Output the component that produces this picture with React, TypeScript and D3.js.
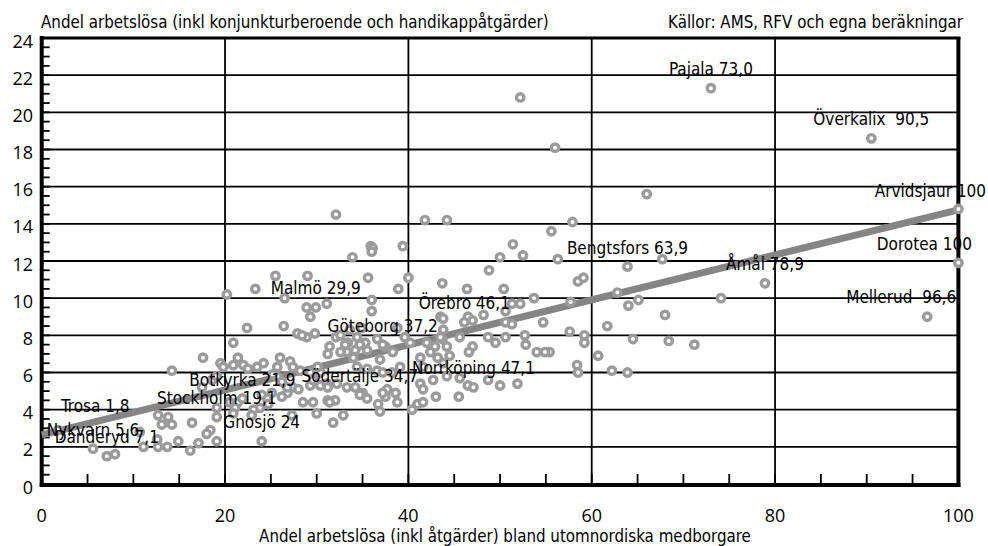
import React, { useEffect, useRef } from 'react';
import * as d3 from 'd3';

// axis ticks and texts
const yTicks = [0, 2, 4, 6, 8, 10, 12, 14, 16, 18, 20, 22, 24];
const xTicks = [0, 20, 40, 60, 80, 100];
const yTitle = 'Andel arbetslösa (inkl konjunkturberoende och handikappåtgärder)';
const sourceText = 'Källor: AMS, RFV och egna beräkningar';
const xTitle = 'Andel arbetslösa (inkl åtgärder) bland utomnordiska medborgare';

// named municipalities
const cityNames = [
  'Pajala 73,0', 'Överkalix  90,5', 'Arvidsjaur 100', 'Dorotea 100', 'Mellerud  96,6',
  'Åmål 78,9', 'Bengtsfors 63,9', 'Örebro 46,1', 'Norrköping 47,1', 'Göteborg 37,2',
  'Malmö 29,9', 'Södertälje 34,7', 'Botkyrka 21,9', 'Stockholm 19,1', 'Gnosjö 24',
  'Trosa 1,8', 'Nykvarn 5,6', 'Danderyd 7,1',
];
const cityX = [73.0, 90.5, 100, 100, 96.6, 78.9, 63.9, 46.1, 47.1, 37.2, 29.9, 34.7, 21.9, 19.1, 24, 1.8, 5.6, 7.1];
const cityY = [21.3, 18.6, 14.8, 11.9, 9.0, 10.8, 11.7, 8.7, 5.2, 7.5, 9.5, 4.8, 4.6, 3.6, 2.3, 2.9, 1.9, 1.5];

// other municipalities
const otherX = [
  52.2, 56.0, 32.1, 66.0, 41.8, 44.2, 55.6, 57.9, 74.1, 68.0, 68.4, 71.2, 67.7, 56.3, 58.5, 59.1,
  62.8, 57.7, 64.0, 65.1, 57.6, 61.7, 59.2, 59.2, 64.5, 60.7, 58.4, 58.5, 62.2, 63.9, 55.4, 54.9,
  54.0, 51.4, 52.5, 50.0, 39.4, 48.8, 40.0, 43.7, 38.9, 46.4, 50.4, 53.7, 51.3, 52.2, 50.6, 43.5,
  43.8, 46.5, 47.0, 48.2, 50.6, 51.3, 54.7, 45.6, 48.7, 49.5, 50.6, 52.7, 52.8, 47.0, 46.6, 42.0,
  42.9, 43.7, 44.2, 44.5, 41.3, 42.4, 43.2, 43.8, 41.6, 44.2, 45.6, 46.5, 48.7, 50.0, 51.9, 43.0,
  45.5, 40.4, 41.0, 41.6, 38.8, 37.7, 38.6, 37.5, 38.2, 39.1, 37.5, 38.3, 36.9, 40.2, 38.8, 39.6,
  42.7, 41.3, 41.6, 35.9, 36.1, 36.0, 33.9, 25.5, 29.0, 23.3, 20.2, 26.5, 35.6, 36.0, 31.1, 28.9,
  29.3, 36.0, 22.4, 26.4, 27.9, 28.9, 29.8, 28.4, 20.9, 32.1, 31.4, 31.2, 33.4, 34.4, 35.3, 36.6,
  33.3, 34.0, 35.5, 26.0, 21.4, 22.0, 22.5, 23.5, 24.2, 19.5, 27.1, 27.4, 28.2, 29.3, 30.4, 34.4,
  35.5, 36.6, 37.2, 25.7, 26.2, 29.3, 30.4, 31.1, 27.4, 28.0, 33.3, 35.5, 37.2, 26.8, 26.2, 25.1,
  24.6, 24.0, 28.5, 29.6, 31.2, 32.0, 36.7, 36.9, 32.9, 31.8, 30.0, 24.7, 23.8, 23.1, 22.9, 21.4,
  21.1, 18.4, 19.1, 17.6, 14.2, 12.7, 13.1, 14.2, 13.8, 16.4, 18.0, 10.7, 11.1, 12.6, 13.7, 12.7,
  14.9, 16.2, 17.1, 8.0, 18.6, 19.1, 17.5, 19.8, 20.9, 25.2, 26.8, 29.6, 30.1, 31.2, 25.7, 27.3,
  20.5, 20.9, 19.1, 32.6, 33.1, 34.2, 32.6, 34.7, 33.6, 34.9, 43.8, 43.5, 32.2, 34.2, 35.0, 31.4,
];
const otherY = [
  20.8, 18.1, 14.5, 15.6, 14.2, 14.2, 13.6, 14.1, 10.0, 9.1, 7.7, 7.5, 12.1, 12.1, 10.9, 11.1,
  10.3, 9.8, 9.6, 9.9, 8.2, 8.5, 8.0, 7.6, 7.8, 6.9, 6.4, 6.0, 6.1, 6.0, 7.1, 7.1,
  7.1, 12.9, 12.3, 12.2, 12.8, 11.5, 11.1, 10.8, 10.5, 10.5, 10.5, 10.0, 9.7, 9.7, 9.3, 9.0,
  8.9, 9.0, 8.8, 9.1, 8.7, 8.6, 8.7, 7.9, 7.9, 7.6, 7.9, 8.0, 7.5, 7.4, 7.1, 7.6,
  7.4, 7.8, 7.4, 6.9, 6.8, 7.1, 6.8, 6.5, 6.3, 5.8, 5.7, 5.3, 5.6, 5.3, 5.4, 4.7,
  4.7, 4.0, 4.3, 4.4, 4.4, 5.1, 4.9, 4.7, 6.0, 6.3, 7.4, 7.1, 6.7, 7.6, 8.4, 7.9,
  5.6, 5.4, 5.1, 12.8, 12.7, 12.5, 12.2, 11.2, 11.2, 10.5, 10.2, 10.0, 11.1, 9.9, 9.7, 9.5,
  9.0, 9.3, 8.4, 8.5, 8.1, 7.9, 8.1, 8.0, 7.6, 7.9, 7.4, 7.0, 7.6, 7.9, 7.6, 7.8,
  7.1, 6.8, 7.2, 6.8, 6.8, 6.4, 6.2, 6.3, 6.5, 6.5, 6.6, 6.3, 6.1, 6.0, 6.0, 6.3,
  6.2, 6.1, 6.0, 5.8, 5.5, 5.3, 5.3, 5.4, 5.2, 5.1, 5.2, 4.6, 4.9, 4.9, 4.7, 4.9,
  4.6, 4.8, 4.4, 4.4, 4.5, 4.5, 4.3, 3.9, 3.7, 3.3, 3.8, 4.3, 4.1, 4.0, 3.7, 4.4,
  4.1, 2.9, 2.3, 6.8, 6.1, 3.7, 3.2, 3.2, 3.6, 3.3, 2.7, 2.8, 2.0, 2.4, 2.0, 2.0,
  2.3, 1.8, 2.2, 1.6, 5.6, 5.8, 5.2, 6.3, 6.4, 5.9, 5.2, 5.6, 6.3, 5.2, 6.3, 3.7,
  4.4, 3.8, 4.1, 8.0, 7.5, 7.2, 7.1, 7.5, 8.3, 8.4, 8.3, 7.9, 5.4, 5.2, 4.9, 4.4,
];

// fitted line end points
const trendX = [0, 100];
const trendY = [2.64, 14.75];

const W = 988;
const H = 546;
const condensed = "'Liberation Sans Narrow', 'Arial Narrow', 'DejaVu Sans Condensed', sans-serif";
const tickFont = "'Open Sans', 'DejaVu Sans', sans-serif";

// small nudges for labels that sit off-centre in the original
const labelNudge: Record<string, [number, number]> = {
  'Trosa 1,8': [37, -18],
  'Arvidsjaur 100': [-28, -12],
  'Dorotea 100': [-34, -13],
  'Mellerud  96,6': [-26, -14],
};

const drawChart = (node: SVGSVGElement) => {
  const svg = d3.select(node);
  svg.selectAll('*').remove();

  const x = d3.scaleLinear().domain([0, 100]).range([41.7, 958.4]);
  const y = d3.scaleLinear().domain([0, 24]).range([484, 38]);

  svg.append('rect').attr('width', W).attr('height', H).attr('fill', '#fff');

  // grid
  svg.append('g').selectAll('line')
    .data(yTicks.filter(d => d > 0 && d < 24))
    .enter().append('line')
    .attr('x1', x(0)).attr('x2', x(100))
    .attr('y1', d => y(d)).attr('y2', d => y(d))
    .attr('stroke', '#000').attr('stroke-width', 1.8);
  svg.append('g').selectAll('line')
    .data(xTicks.filter(d => d > 0 && d < 100))
    .enter().append('line')
    .attr('x1', d => x(d)).attr('x2', d => x(d))
    .attr('y1', y(0)).attr('y2', y(24))
    .attr('stroke', '#000').attr('stroke-width', 1.8);

  // minor ticks
  svg.append('g').selectAll('line')
    .data(d3.range(0, 24.01, 0.5))
    .enter().append('line')
    .attr('x1', x(0)).attr('x2', x(0) + 8)
    .attr('y1', d => y(d)).attr('y2', d => y(d))
    .attr('stroke', '#000').attr('stroke-width', 1.8);
  svg.append('g').selectAll('line')
    .data(d3.range(0, 100.1, 5))
    .enter().append('line')
    .attr('x1', d => x(d)).attr('x2', d => x(d))
    .attr('y1', y(0)).attr('y2', y(0) - 10)
    .attr('stroke', '#000').attr('stroke-width', 1.8);

  // frame
  svg.append('line').attr('x1', x(0)).attr('x2', x(100) + 2).attr('y1', y(24)).attr('y2', y(24))
    .attr('stroke', '#000').attr('stroke-width', 3);
  svg.append('line').attr('x1', x(0) - 2).attr('x2', x(100) + 2).attr('y1', y(0) + 1).attr('y2', y(0) + 1)
    .attr('stroke', '#000').attr('stroke-width', 4);
  svg.append('line').attr('x1', x(0)).attr('x2', x(0)).attr('y1', y(24) - 2).attr('y2', y(0) + 3)
    .attr('stroke', '#000').attr('stroke-width', 4);
  svg.append('line').attr('x1', x(100)).attr('x2', x(100)).attr('y1', y(24) - 1).attr('y2', y(0) + 3)
    .attr('stroke', '#000').attr('stroke-width', 4);

  // tick labels
  svg.append('g').selectAll('text')
    .data(yTicks)
    .enter().append('text')
    .text(d => d)
    .attr('x', 33).attr('y', d => y(d) + 9.5)
    .attr('text-anchor', 'end')
    .style('font-family', tickFont).style('font-size', '18px');
  svg.append('g').selectAll('text')
    .data(xTicks)
    .enter().append('text')
    .text(d => d)
    .attr('x', d => x(d)).attr('y', y(0) + 38)
    .attr('text-anchor', 'middle')
    .style('font-family', tickFont).style('font-size', '18px');

  // titles
  svg.append('text').text(yTitle).attr('x', 41).attr('y', 28)
    .style('font-family', condensed).style('font-size', '16.8px');
  svg.append('text').text(sourceText).attr('x', 963).attr('y', 28).attr('text-anchor', 'end')
    .style('font-family', condensed).style('font-size', '16.8px');
  svg.append('text').text(xTitle).attr('x', 505).attr('y', 542).attr('text-anchor', 'middle')
    .style('font-family', condensed).style('font-size', '16.8px');

  // trend line
  svg.append('path')
    .datum(trendX.map((d, i) => [d, trendY[i]] as [number, number]))
    .attr('fill', 'none').attr('stroke', '#858585').attr('stroke-width', 7)
    .attr('d', d3.line().x(d => x(d[0])).y(d => y(d[1])));

  // points
  const pts = otherX.map((d, i) => [d, otherY[i]]).concat(cityX.map((d, i) => [d, cityY[i]]));
  svg.append('g').selectAll('circle')
    .data(pts)
    .enter().append('circle')
    .attr('cx', d => x(d[0])).attr('cy', d => y(d[1]))
    .attr('r', 3.7)
    .attr('fill', '#fff').attr('stroke', '#9b9b9b').attr('stroke-width', 3.4);

  // labels
  svg.append('g').selectAll('text')
    .data(cityNames)
    .enter().append('text')
    .text(d => d)
    .attr('x', (d, i) => x(cityX[i]) + (labelNudge[d] ? labelNudge[d][0] : 0))
    .attr('y', (d, i) => y(cityY[i]) + (labelNudge[d] ? labelNudge[d][1] : -13))
    .attr('text-anchor', 'middle')
    .style('white-space', 'pre')
    .style('font-family', condensed).style('font-size', '17px');
};

const App = () => {
  const ref = useRef<SVGSVGElement>(null);
  useEffect(() => { if (ref.current) drawChart(ref.current); }, []);
  return (
    <svg ref={ref} width={W} height={H}
      style={{ position: 'absolute', left: 0, top: 0, display: 'block' }} />
  );
};

export default App;
